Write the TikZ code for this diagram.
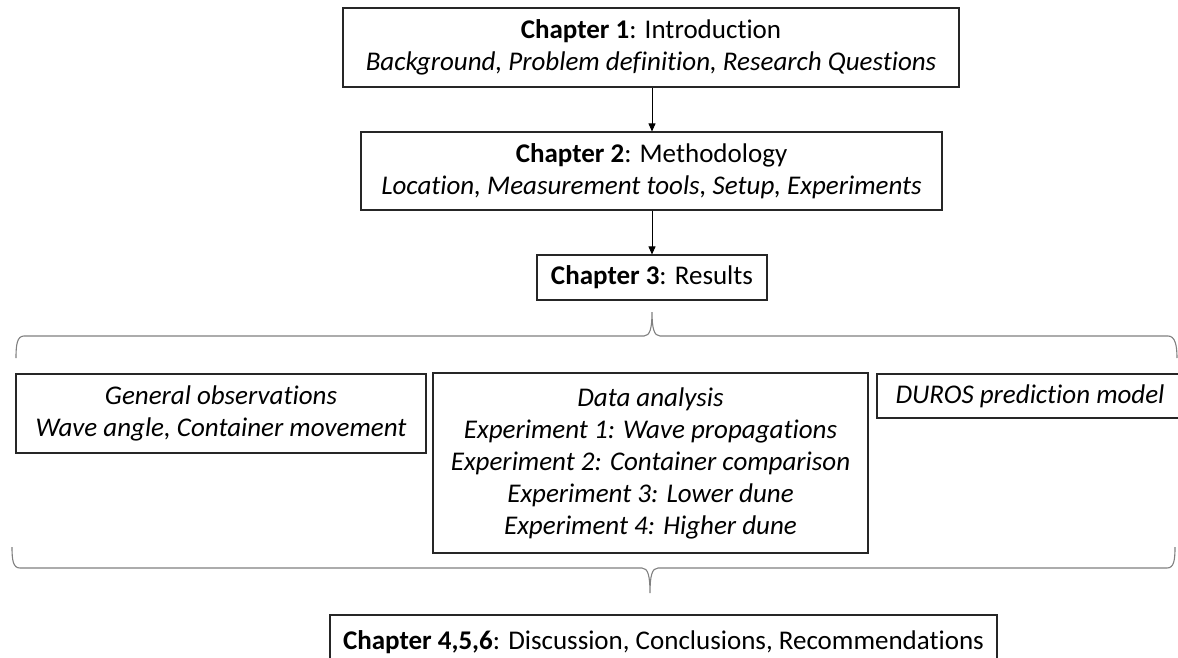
\documentclass[tikz,border=0pt]{standalone}
\usepackage{fontspec}
\setmainfont[Ligatures={NoCommon,NoRare,NoContextual},Contextuals={NoAlternate}]{Carlito}
\usetikzlibrary{arrows.meta}
\begin{document}
\begin{tikzpicture}[x=1pt,y=-1pt,
  box/.style={draw=black!85,line width=1.1pt,inner sep=0pt,align=center,
    font=\fontsize{27}{32}\selectfont},
  arr/.style={line width=0.8pt,-{Triangle[width=7pt,length=8pt]}},
  brace/.style={draw=black!50,line width=1.1pt}]
\useasboundingbox (0,0) rectangle (1178,657);
\node[box,minimum width=616pt,minimum height=79pt] (c1) at (651,47.5)
  {\textbf{Chapter 1}: Introduction\\\textit{Background, Problem definition, Research Questions}};
\node[box,minimum width=581pt,minimum height=78pt] (c2) at (651.5,171)
  {\textbf{Chapter 2}: Methodology\\\textit{Location, Measurement tools, Setup, Experiments}};
\node[box,minimum width=230pt,minimum height=45pt] (c3) at (652,277.5)
  {\textbf{Chapter 3}: Results};
\node[box,minimum width=410pt,minimum height=79pt] (gen) at (221,413.5)
  {\textit{General observations}\\\textit{Wave angle, Container movement}};
\node[box,minimum width=435pt,minimum height=180pt] (data) at (650.5,463)
  {\textit{Data analysis}\\\textit{Experiment 1: Wave propagations}\\\textit{Experiment 2: Container comparison}\\\textit{Experiment 3: Lower dune}\\\textit{Experiment 4: Higher dune}};
\node[box,minimum width=306pt,minimum height=44pt] (duros) at (1030,396)
  {\textit{DUROS prediction model}};
\node[box,minimum width=667pt,minimum height=60pt] (c4) at (663.5,645)
  {\raisebox{10pt}{\textbf{Chapter 4,5,6}: Discussion, Conclusions, Recommendations}};
\draw[arr] (c1.south -| 652,0) -- (c2.north -| 652,0);
\draw[arr] (c2.south -| 652,0) -- (c3.north -| 652,0);
% top brace
\draw[brace] (16,358) .. controls (16,345) and (17,336) .. (24,336) -- (644,336)
  .. controls (650,336) and (652,328) .. (652,312)
  .. controls (652,328) and (654,336) .. (660,336) -- (1168,336)
  .. controls (1175,336) and (1177,345) .. (1177,358);
% bottom brace
\draw[brace] (12,547) .. controls (12,560) and (13,568) .. (20,568) -- (642,568)
  .. controls (648,568) and (650,576) .. (650,593)
  .. controls (650,576) and (652,568) .. (658,568) -- (1167,568)
  .. controls (1174,568) and (1175,560) .. (1175,547);
\end{tikzpicture}
\end{document}
